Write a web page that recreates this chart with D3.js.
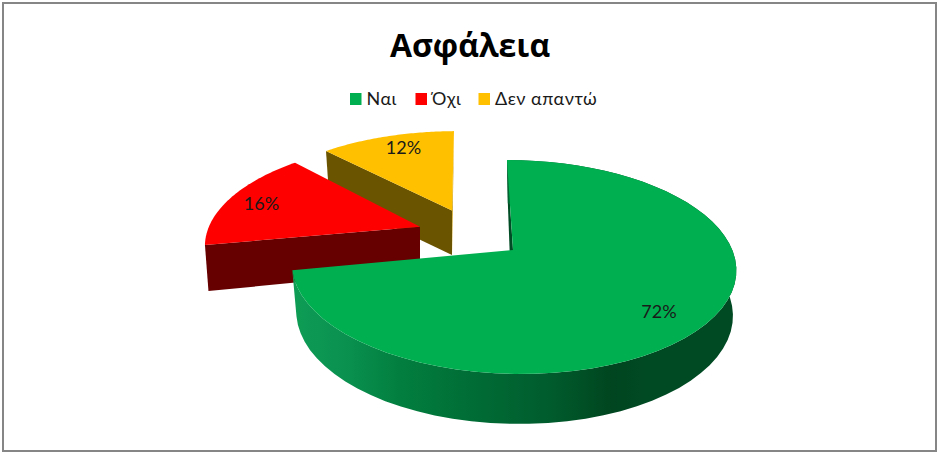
<!DOCTYPE html>
<html>
<head>
<meta charset="utf-8">
<script src="https://cdn.jsdelivr.net/npm/d3@7"></script>
<style>
  html, body { margin: 0; padding: 0; background: #fff; }
  svg { display: block; }
  text { font-family: "Open Sans", sans-serif; fill: #000; }
  .thin { font-family: Lato, "Open Sans", sans-serif; }
</style>
</head>
<body>
<svg id="chart" width="939" height="454"></svg>
<script>
var categories = ["Ναι", "Όχι", "Δεν απαντώ"];
var values = [72, 16, 12];
var colors = ["#00b050", "#ff0000", "#ffc000"];
var title = "Ασφάλεια";

// perspective of the tilted pie: k and m are the depth terms, sx/sy the skew
var k = -0.159;
var shapes = [
  {top: {cx: 513, cy: 250, R: 219.3, A: 104.3, sx: 7, sy: 0, m: 0},
   base: {cx: 511.3, cy: 296, R: 215.5, A: 107.6, sx: 4, sy: 0, m: -0.012}},
  {top: {cx: 420, cy: 226.7, R: 214.5, A: 98.7, sx: -8.2, sy: 0.4, m: -0.017},
   base: {cx: 420, cy: 270.5, R: 211, A: 108, sx: -8, sy: 0, m: -0.017}},
  {top: {cx: 452, cy: 210.5, R: 210, A: 92, sx: -2.3, sy: 0, m: -0.017},
   base: {cx: 452, cy: 255, R: 204, A: 91, sx: -1.5, sy: 0, m: -0.017}}
];

var svg = d3.select("#chart");

svg.append("rect")
  .attr("x", 3).attr("y", 3).attr("width", 933).attr("height", 448)
  .attr("fill", "#fff").attr("stroke", "#868686").attr("stroke-width", 2);

// side wall shading of the big slice runs left to right
var grad = svg.append("defs").append("linearGradient")
  .attr("id", "wallGreen")
  .attr("gradientUnits", "userSpaceOnUse")
  .attr("x1", 292).attr("x2", 736).attr("y1", 0).attr("y2", 0);
[[0, "#0e9d55"], [0.12, "#0a9150"], [0.24, "#027f3f"], [0.4, "#006d36"],
 [0.58, "#005c2d"], [0.72, "#00451f"], [0.8, "#004a23"], [1, "#004a23"]]
  .forEach(function(s) {
    grad.append("stop").attr("offset", s[0]).attr("stop-color", s[1]);
  });

function project(g, a) {
  var u = Math.sin(a), v = -Math.cos(a);
  var w = 1 + k * v + g.m * u;
  return [g.cx + (g.R * u + g.sx * v) / w, g.cy + (g.A * v + g.sy * u) / w];
}

function rim(g, a0, a1) {
  return d3.range(0, 61).map(function(i) {
    return project(g, a0 + (a1 - a0) * i / 60);
  });
}

var line = d3.line();
var arcs = d3.pie().sort(null)(values);

function sliceTop(s, d) {
  return line([[s.top.cx, s.top.cy]].concat(rim(s.top, d.startAngle, d.endAngle))) + "Z";
}
function cutWall(s, a) {
  return line([[s.top.cx, s.top.cy], project(s.top, a), project(s.base, a), [s.base.cx, s.base.cy]]) + "Z";
}
function outerWall(s, a0, a1) {
  return line(rim(s.top, a0, a1).concat(rim(s.base, a0, a1).reverse())) + "Z";
}

// yellow slice sits furthest back, then red, green on top
var g = svg.append("g");

// yellow
g.append("path").attr("d", cutWall(shapes[2], arcs[2].endAngle)).attr("fill", "#c49400");
g.append("path").attr("d", cutWall(shapes[2], arcs[2].startAngle)).attr("fill", "#6b5400");
g.append("path").attr("d", sliceTop(shapes[2], arcs[2])).attr("fill", colors[2]);

// red
g.append("path").attr("d", cutWall(shapes[1], arcs[1].startAngle)).attr("fill", "#660000");
g.append("path").attr("d", sliceTop(shapes[1], arcs[1])).attr("fill", colors[1]);

// green
g.append("path").attr("d", cutWall(shapes[0], arcs[0].startAngle)).attr("fill", "#004d25");
g.append("path").attr("d", outerWall(shapes[0], arcs[0].startAngle, arcs[0].endAngle)).attr("fill", "url(#wallGreen)");
g.append("path").attr("d", sliceTop(shapes[0], arcs[0])).attr("fill", colors[0]);

// percent labels
var labelPos = [[659, 312], [261.5, 204], [403.5, 148]];
svg.selectAll("text.pct")
  .data(values)
  .enter().append("text")
  .attr("class", "pct thin")
  .attr("x", function(d, i) { return labelPos[i][0]; })
  .attr("y", function(d, i) { return labelPos[i][1]; })
  .attr("dy", "0.35em")
  .attr("text-anchor", "middle")
  .attr("font-size", 18)
  .style("fill", "#1a1a1a")
  .text(function(d) { return d + "%"; });

svg.append("text")
  .attr("x", 470).attr("y", 57)
  .attr("text-anchor", "middle")
  .attr("font-size", 32)
  .attr("font-weight", 700)
  .text(title);

// legend
var legendX = [350, 415.5, 478.5];
var legend = svg.selectAll("g.legend")
  .data(categories)
  .enter().append("g")
  .attr("class", "legend")
  .attr("transform", function(d, i) { return "translate(" + legendX[i] + ",93)"; });
legend.append("rect")
  .attr("width", 11.5).attr("height", 12)
  .attr("fill", function(d, i) { return colors[i]; });
legend.append("text")
  .attr("class", "thin")
  .attr("x", 16.5).attr("y", 11.5)
  .attr("font-size", 18)
  .attr("letter-spacing", 0.5)
  .style("fill", "#1a1a1a")
  .text(function(d) { return d; });
</script>
</body>
</html>
